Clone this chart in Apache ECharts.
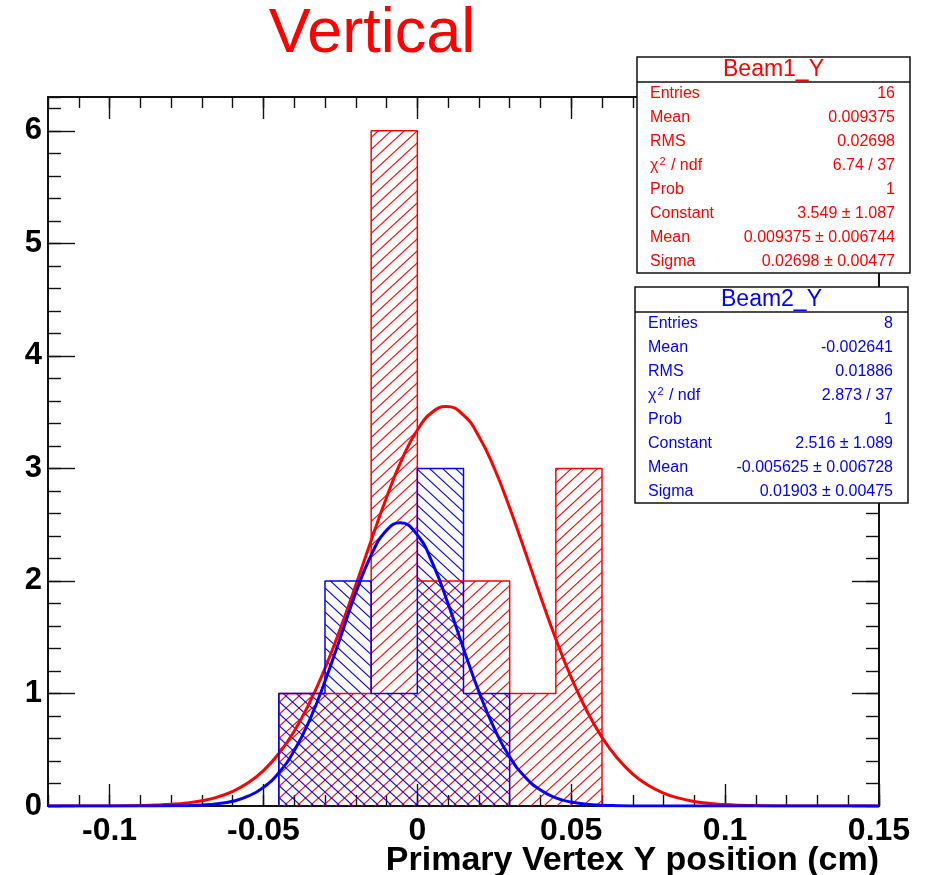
<!DOCTYPE html>
<html>
<head>
<meta charset="utf-8">
<title>Vertical</title>
<script src="https://cdn.jsdelivr.net/npm/echarts@6/dist/echarts.min.js"></script>
<style>
html, body { margin: 0; padding: 0; background: #fff; }
#chart { width: 925px; height: 875px; }
</style>
</head>
<body>
<div id="chart"></div>
<script>
// histogram bins (cm) and entries
const binEdges = [-0.045, -0.03, -0.015, 0, 0.015, 0.03, 0.045, 0.06];
const beam1Counts = [1, 1, 6, 2, 2, 1, 3];
const beam2Counts = [1, 2, 1, 3, 1];

// gaussian fit curves
const beam1FitX = [-0.12, -0.105, -0.095, -0.09, -0.085, -0.08, -0.075, -0.07, -0.065, -0.06, -0.055, -0.05,
  -0.045, -0.04, -0.035, -0.03, -0.025, -0.02, -0.015, -0.01, -0.005, 0, 0.005, 0.0094, 0.015, 0.02,
  0.025, 0.03, 0.035, 0.04, 0.045, 0.05, 0.055, 0.06, 0.065, 0.07, 0.075, 0.08, 0.085, 0.09, 0.095,
  0.1, 0.105, 0.11, 0.12, 0.15];
const beam1FitY = [0, 0.0004, 0.002, 0.004, 0.0078, 0.0147, 0.0267, 0.0468, 0.0794, 0.130, 0.206, 0.315,
  0.466, 0.665, 0.918, 1.224, 1.576, 1.962, 2.360, 2.742, 3.080, 3.341, 3.503, 3.549, 3.473, 3.284,
  3.001, 2.650, 2.261, 1.864, 1.484, 1.142, 0.849, 0.610, 0.424, 0.284, 0.184, 0.115, 0.0698, 0.0408, 0.0231,
  0.0126, 0.0066, 0.0034, 0.0007, 0];
const beam2FitX = [-0.12, -0.09, -0.08, -0.075, -0.07, -0.065, -0.06, -0.055, -0.05, -0.045, -0.04, -0.035,
  -0.03, -0.025, -0.02, -0.015, -0.01, -0.0056, 0, 0.005, 0.01, 0.015, 0.02, 0.025, 0.03, 0.035, 0.04,
  0.045, 0.05, 0.055, 0.06, 0.065, 0.07, 0.08, 0.15];
const beam2FitY = [0, 0, 0.0012, 0.0033, 0.0082, 0.0194, 0.0425, 0.0869, 0.166, 0.296, 0.492, 0.764,
  1.108, 1.498, 1.892, 2.228, 2.450, 2.516, 2.408, 2.153, 1.796, 1.398, 1.016, 0.689, 0.436, 0.258, 0.142,
  0.073, 0.035, 0.0157, 0.0066, 0.0026, 0.0009, 0, 0];

// axis ticks
const xTickValues = [-0.1, -0.05, 0, 0.05, 0.1, 0.15];
const xTickLabels = ['-0.1', '-0.05', '0', '0.05', '0.1', '0.15'];
const yTickValues = [0, 1, 2, 3, 4, 5, 6];
const yTickLabels = ['0', '1', '2', '3', '4', '5', '6'];

// stats boxes
const statNames = ['Entries', 'Mean', 'RMS', 'chi2', 'Prob', 'Constant', 'Mean', 'Sigma'];
const beam1Stats = ['16', '0.009375', '0.02698', '6.74 / 37', '1', '3.549 ± 1.087', '0.009375 ± 0.006744', '0.02698 ± 0.00477'];
const beam2Stats = ['8', '-0.002641', '0.01886', '2.873 / 37', '1', '2.516 ± 1.089', '-0.005625 ± 0.006728', '0.01903 ± 0.00475'];

const RED = '#ff0000';
const BLUE = '#0000ff';
const FONT = '"Liberation Sans", Arial, Helvetica, sans-serif';

function hatch(color, dir) {
  const w = 13, h = 12;
  const c = document.createElement('canvas');
  c.width = w; c.height = h;
  const ctx = c.getContext('2d');
  ctx.strokeStyle = color;
  ctx.lineWidth = 1.1;
  for (let k = -1; k <= 1; k++) {
    ctx.beginPath();
    if (dir === '/') {
      ctx.moveTo(-w, h + k * h + h);
      ctx.lineTo(2 * w, k * h - h);
    } else {
      ctx.moveTo(-w, k * h - h);
      ctx.lineTo(2 * w, h + k * h + h);
    }
    ctx.stroke();
  }
  return { image: c, repeat: 'repeat' };
}

function binData(counts) {
  return counts.map((n, i) => [binEdges[i], binEdges[i + 1], n]);
}

function outline(counts) {
  const pts = [[binEdges[0], 0]];
  counts.forEach((n, i) => {
    pts.push([binEdges[i], n]);
    pts.push([binEdges[i + 1], n]);
  });
  pts.push([binEdges[counts.length], 0]);
  return pts;
}

function pairs(xs, ys) {
  return xs.map((x, i) => [x, ys[i]]);
}

function histFill(name, counts, fill) {
  return {
    name: name,
    type: 'custom',
    data: binData(counts),
    encode: { x: [0, 1], y: 2 },
    renderItem: function (params, api) {
      const p0 = api.coord([api.value(0), api.value(2)]);
      const p1 = api.coord([api.value(1), 0]);
      return {
        type: 'rect',
        shape: { x: p0[0], y: p0[1], width: p1[0] - p0[0], height: p1[1] - p0[1] },
        style: { fill: fill }
      };
    }
  };
}

function lineSeries(data, color, width, smooth) {
  return {
    type: 'line',
    data: data,
    symbol: 'none',
    smooth: smooth ? 0.5 : false,
    lineStyle: { color: color, width: width },
    silent: true
  };
}

function statBox(x, y, title, values, color) {
  const w = 273, h = 216;
  const children = [
    { type: 'rect', z: 100, shape: { x: 0, y: 0, width: w, height: h }, style: { fill: '#fff', stroke: '#111', lineWidth: 1.5 } },
    { type: 'line', z: 101, shape: { x1: 0, y1: 25, x2: w, y2: 25 }, style: { stroke: '#111', lineWidth: 1.5 } },
    { type: 'text', z: 101, x: w / 2, y: 13, style: { text: title, fill: color, font: '23px ' + FONT, align: 'center', verticalAlign: 'middle' } }
  ];
  statNames.forEach((n, i) => {
    const ty = 37 + i * 24;
    const label = n === 'chi2'
      ? { text: '{n|χ}{s|2}{n| / ndf}', rich: { n: { fill: color, font: '16px ' + FONT }, s: { fill: color, font: '11px ' + FONT, padding: [0, 1, 8, 1] } } }
      : { text: n };
    children.push({
      type: 'text', z: 101, x: 13, y: ty,
      style: Object.assign({ fill: color, font: '16px ' + FONT, align: 'left', verticalAlign: 'middle' }, label)
    });
    children.push({
      type: 'text', z: 101, x: 258, y: ty,
      style: { text: values[i], fill: color, font: '16px ' + FONT, align: 'right', verticalAlign: 'middle' }
    });
  });
  return { type: 'group', x: x, y: y, z: 100, children: children };
}

const chart = echarts.init(document.getElementById('chart'));

const frameLine = { show: true, onZero: false, lineStyle: { color: '#111', width: 2 } };
const tickStyle = { color: '#111', width: 1.4 };

function xAxis(pos, major) {
  const a = {
    type: 'value', position: pos, min: -0.12, max: 0.15,
    splitLine: { show: false },
    axisLine: major ? frameLine : { show: false, onZero: false },
    axisTick: major
      ? { inside: true, length: 22, customValues: xTickValues, lineStyle: tickStyle }
      : { inside: true, length: 11, lineStyle: tickStyle },
    axisLabel: { show: false }
  };
  if (!major) a.interval = 0.01;
  if (major && pos === 'bottom') {
    a.axisLabel = {
      show: true, customValues: xTickValues, margin: 9,
      formatter: v => xTickLabels[xTickValues.findIndex(t => Math.abs(t - v) < 1e-9)],
      color: '#000', fontFamily: FONT, fontWeight: 'bold', fontSize: 32
    };
  }
  return a;
}

function yAxis(pos, major) {
  const a = {
    type: 'value', position: pos, min: 0, max: 6.3,
    splitLine: { show: false },
    axisLine: major ? frameLine : { show: false, onZero: false },
    axisTick: major
      ? { inside: true, length: 27, customValues: yTickValues, lineStyle: tickStyle }
      : { inside: true, length: 13, lineStyle: tickStyle },
    axisLabel: { show: false }
  };
  if (!major) a.interval = 0.2;
  if (major && pos === 'left') {
    a.axisLabel = {
      show: true, customValues: yTickValues, margin: 6,
      formatter: v => yTickLabels[yTickValues.indexOf(Math.round(v))],
      color: '#000', fontFamily: FONT, fontWeight: 'bold', fontSize: 31
    };
  }
  return a;
}

const option = {
  animation: false,
  backgroundColor: '#fff',
  grid: { left: 48, right: 46, top: 97, bottom: 69, containLabel: false, outerBoundsMode: 'none' },
  xAxis: [xAxis('bottom', true), xAxis('bottom', false), xAxis('top', true), xAxis('top', false)],
  yAxis: [yAxis('left', true), yAxis('left', false), yAxis('right', true), yAxis('right', false)],
  series: [
    histFill('Beam1_Y', beam1Counts, hatch(RED, '/')),
    lineSeries(outline(beam1Counts), RED, 1.5, false),
    lineSeries(pairs(beam1FitX, beam1FitY), RED, 3, true),
    histFill('Beam2_Y', beam2Counts, hatch(BLUE, '\\')),
    lineSeries(outline(beam2Counts), BLUE, 1.5, false),
    lineSeries(pairs(beam2FitX, beam2FitY), BLUE, 3, true)
  ],
  graphic: [
    { type: 'text', x: 372, y: 35, z: 100, style: { text: 'Vertical', fill: RED, font: '63px ' + FONT, align: 'center', verticalAlign: 'middle' } },
    { type: 'text', x: 879, y: 861, z: 100, style: { text: 'Primary Vertex Y position (cm)', fill: '#000', font: 'bold 34px ' + FONT, align: 'right', verticalAlign: 'middle' } },
    statBox(637, 57, 'Beam1_Y', beam1Stats, RED),
    statBox(635, 287, 'Beam2_Y', beam2Stats, BLUE)
  ]
};

chart.setOption(option);
</script>
</body>
</html>
